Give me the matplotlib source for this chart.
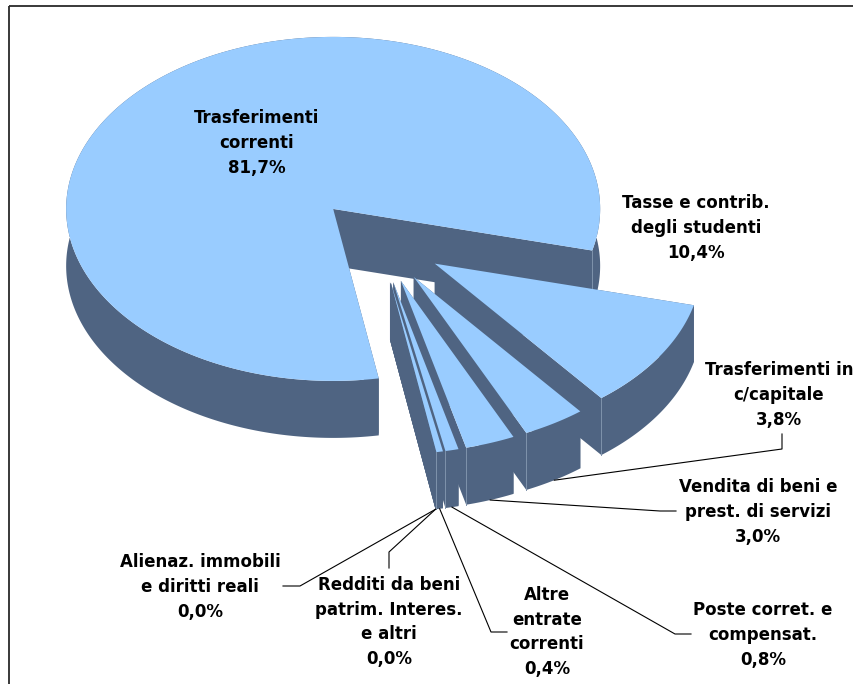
import numpy as np
import matplotlib
matplotlib.use("Agg")
import matplotlib.pyplot as plt
from matplotlib.patches import Polygon, Rectangle

# order is clockwise, starting from the cut on the right of the big slice
names = ["Tasse e contrib.\ndegli studenti",
         "Trasferimenti in\nc/capitale",
         "Vendita di beni e\nprest. di servizi",
         "Poste corret. e\ncompensat.",
         "Altre\nentrate\ncorrenti",
         "Redditi da beni\npatrim. Interes.\ne altri",
         "Alienaz. immobili\ne diritti reali",
         "Trasferimenti\ncorrenti"]
values = [10.4, 3.8, 3.0, 0.8, 0.4, 0.0, 0.0, 81.7]

label_x = [696, 779, 758, 763, 547, 389, 200, 257]
label_y = [228, 395, 512, 635, 632, 622, 587, 143]
# leader line: elbow then end, None when the label sits next to its slice
leaders = [None,
           [(782, 449), (782, 434)],
           [(660, 511), (676, 511)],
           [(675, 634), (691, 634)],
           [(491, 632), (507, 632)],
           [(389, 552), (389, 568)],
           [(300, 586), (283, 586)],
           None]

TOP = "#99CCFF"
SIDE = "#4F6482"
EDGE = "#7E92AB"

rx, ry = 267, 172
depth = 57
explode = 0.25
start = -14.0
cx, cy = 378.6, 240.4

fig = plt.figure(figsize=(8.54, 6.84), dpi=100)
ax = fig.add_axes([0, 0, 1, 1])
ax.set_xlim(0, 854)
ax.set_ylim(684, 0)
ax.axis("off")

ax.add_patch(Rectangle((9.5, 6), 900, 800, fill=False, ec="#2a2a2a", lw=1.3, zorder=50))


def pt(ox, oy, deg):
    return ox + rx * np.cos(np.radians(deg)), oy - ry * np.sin(np.radians(deg))


def draw_slice(a0, a1, order):
    # a0 > a1, slice runs clockwise
    mid = (a0 + a1) / 2
    ox = cx + explode * rx * np.cos(np.radians(mid))
    oy = cy - explode * ry * np.sin(np.radians(mid))
    t = np.linspace(a0, a1, max(int(abs(a0 - a1)) * 2, 2))
    xs, ys = pt(ox, oy, t)
    kw = dict(fc=SIDE, ec="none", zorder=order)
    ax.add_patch(Polygon(np.r_[np.c_[xs, ys], np.c_[xs, ys + depth][::-1]], **kw))
    for a in (a0, a1):
        x1, y1 = pt(ox, oy, a)
        ax.add_patch(Polygon([(ox, oy), (x1, y1), (x1, y1 + depth), (ox, oy + depth)], **kw))
    x1, y1 = pt(ox, oy, a1)
    ax.plot([x1, x1], [y1, y1 + depth], color=EDGE, lw=0.7, zorder=order + 0.1)
    ax.add_patch(Polygon(np.r_[[(ox, oy)], np.c_[xs, ys]], fc=TOP, ec="none", zorder=order + 0.2))
    return pt(ox, oy + depth, mid)


total = sum(values)
sweeps = [v / total * 360 for v in values]
a = start
anchors = []
# big slice goes behind everything else
draw_order = [2 + i for i in range(len(values) - 1)] + [1]
for sw, order in zip(sweeps, draw_order):
    anchors.append(draw_slice(a, a - sw, order))
    a -= sw

for name, val, x, y, leader, anchor in zip(names, values, label_x, label_y, leaders, anchors):
    txt = name + "\n" + f"{val:.1f}".replace(".", ",") + "%"
    ax.text(x, y, txt, ha="center", va="center", fontsize=12, fontweight="bold",
            family="DejaVu Sans", linespacing=1.47, color="black", zorder=40)
    if leader:
        pts = [anchor] + leader
        ax.plot([p[0] for p in pts], [p[1] for p in pts], color="black", lw=0.8, zorder=30)

fig.savefig("out.png", dpi=100)
